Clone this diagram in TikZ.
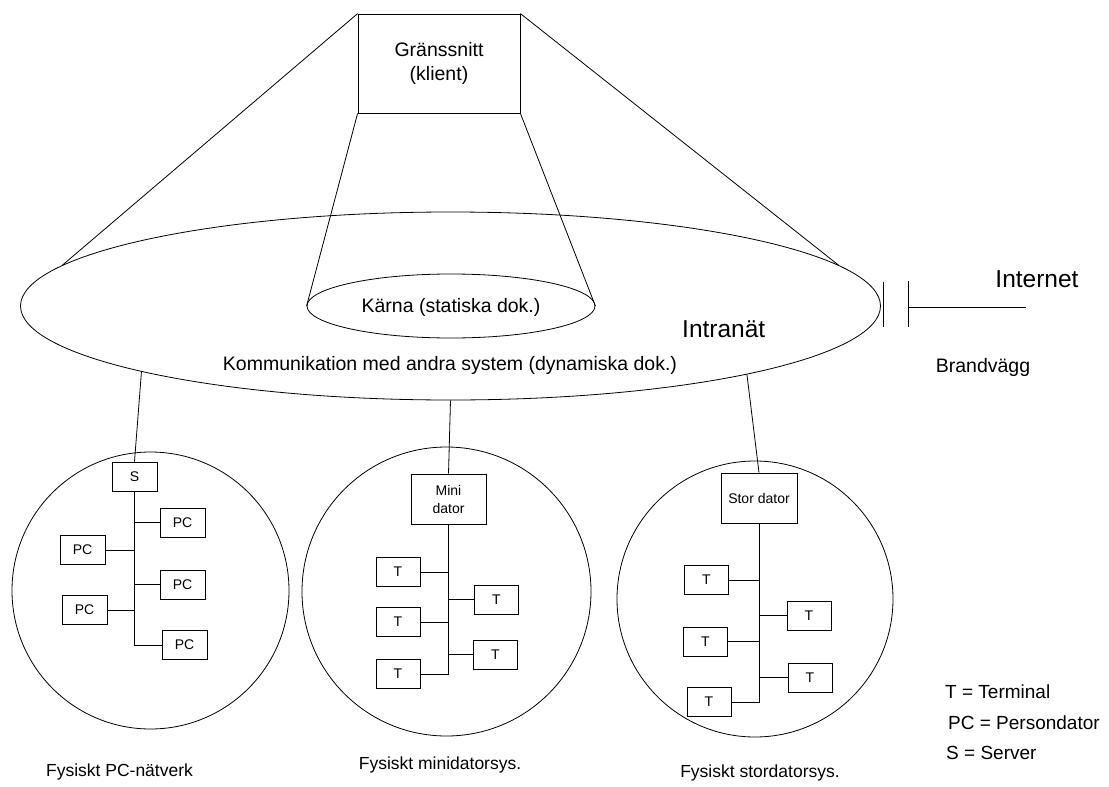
\documentclass[tikz,border=0pt]{standalone}
\usepackage{fontspec}
\setmainfont{Liberation Sans}
\usetikzlibrary{shapes.geometric}

\tikzset{
  thin line/.style={line width=0.8pt, black},
  mid text/.style={font=\fontsize{19.5}{24}\selectfont, inner sep=0pt},
  big text/.style={font=\fontsize{24.5}{29}\selectfont, inner sep=0pt},
  label text/.style={font=\fontsize{17.5}{21}\selectfont, inner sep=0pt},
  legend text/.style={font=\fontsize{19}{23}\selectfont, inner sep=0pt, anchor=west},
  unitbox/.style={draw, thin line, inner sep=0pt, minimum width=45pt, minimum height=29pt,
                  font=\fontsize{14}{18}\selectfont},
  hostbox/.style={draw, thin line, inner sep=0pt, minimum width=76pt, minimum height=50pt,
                  font=\fontsize{14}{18}\selectfont, align=center},
  netcircle/.style={draw, thin line, circle, inner sep=0pt},
}

\begin{document}
\begin{tikzpicture}[x=1pt, y=-1pt]
\useasboundingbox (0,0) rectangle (1109,787);

% ---- client, intranet and core ----
\node[draw, thin line, minimum width=162pt, minimum height=99pt, inner sep=0pt,
      mid text, align=center] (gui) at (439,63.5) {Gränssnitt\\(klient)};
\node[draw, thin line, ellipse, minimum width=860pt, minimum height=188pt, inner sep=0pt]
      (intra) at (450.5,306) {};
\node[draw, thin line, ellipse, minimum width=288pt, minimum height=64pt, inner sep=0pt]
      (core) at (451,306) {};
\node[mid text] (coretxt) at (451,307) {Kärna (statiska dok.)};
\node[mid text] (komm) at (450,365) {Kommunikation med andra system (dynamiska dok.)};
\node[big text, anchor=base west] (intranet) at (682,337) {Intranät};

\draw[thin line] (gui.north west) -- (intra.174.48);
\draw[thin line] (gui.north east) -- (intra.6.4);
\draw[thin line] (gui.south west) -- (core.west);
\draw[thin line] (gui.south east) -- (core.east);

% ---- firewall and internet ----
\coordinate (fw1a) at (883,282);
\coordinate (fw1b) at (883,327);
\coordinate (fw2a) at (908,281);
\coordinate (fw2b) at (908,327);
\coordinate (fwmid) at (908,307);
\coordinate (inet) at (1026,307);
\draw[thin line] (fw1a) -- (fw1b);
\draw[thin line] (fw2a) -- (fw2b);
\draw[thin line] (fwmid) -- (inet);
\node[big text] (internet) at (1037,279) {Internet};
\node[mid text] (brand) at (983,367) {Brandvägg};

% ---- physical PC network ----
\node[netcircle, minimum size=277pt] (c1) at (150.5,590.5) {};
\node[unitbox] (srv) at (134.5,476.5) {S};
\node[unitbox] (pca) at (182.5,522.5) {PC};
\node[unitbox] (pcb) at (82.5,550) {PC};
\node[unitbox] (pcc) at (182.5,584.5) {PC};
\node[unitbox] (pcd) at (84.5,610) {PC};
\node[unitbox] (pce) at (184.5,645) {PC};
\draw[thin line] (intra.192.45) -- (srv.north);
\draw[thin line] (srv.south) -- (srv.south |- pce.west) -- (pce.west);
\draw[thin line] (srv.south |- pca.west) -- (pca.west);
\draw[thin line] (srv.south |- pcb.east) -- (pcb.east);
\draw[thin line] (srv.south |- pcc.west) -- (pcc.west);
\draw[thin line] (srv.south |- pcd.east) -- (pcd.east);

% ---- physical minicomputer system ----
\node[netcircle, minimum size=289pt] (c2) at (446.5,591.5) {};
\node[hostbox, minimum width=75pt] (mini) at (448.5,499) {Mini\\dator};
\node[unitbox, minimum width=44pt] (ma) at (398,572) {T};
\node[unitbox, minimum width=44pt] (mb) at (496.5,599.5) {T};
\node[unitbox, minimum width=44pt] (mc) at (398,622) {T};
\node[unitbox, minimum width=44pt] (md) at (495.5,654.5) {T};
\node[unitbox, minimum width=44pt] (me) at (398,674) {T};
\draw[thin line] (intra.270) -- (mini.north);
\draw[thin line] (mini.south) -- (mini.south |- me.east) -- (me.east);
\draw[thin line] (mini.south |- ma.east) -- (ma.east);
\draw[thin line] (mini.south |- mb.west) -- (mb.west);
\draw[thin line] (mini.south |- mc.east) -- (mc.east);
\draw[thin line] (mini.south |- md.west) -- (md.west);

% ---- physical mainframe system ----
\node[netcircle, minimum size=276pt] (c3) at (755,599) {};
\node[hostbox] (stor) at (759,498) {Stor dator};
\node[unitbox, minimum width=44pt] (sa) at (706.5,580) {T};
\node[unitbox, minimum width=44pt] (sb) at (809,615.5) {T};
\node[unitbox, minimum width=44pt] (sc) at (705.5,641.5) {T};
\node[unitbox, minimum width=44pt] (sd) at (810,677.5) {T};
\node[unitbox, minimum width=44pt] (se) at (709,702) {T};
\draw[thin line] (intra.347.17) -- (stor.north);
\draw[thin line] (stor.south) -- (stor.south |- se.east) -- (se.east);
\draw[thin line] (stor.south |- sa.east) -- (sa.east);
\draw[thin line] (stor.south |- sb.west) -- (sb.west);
\draw[thin line] (stor.south |- sc.east) -- (sc.east);
\draw[thin line] (stor.south |- sd.west) -- (sd.west);

% ---- captions ----
\node[label text] (cap1) at (119.5,772) {Fysiskt PC-nätverk};
\node[label text] (cap2) at (440,765) {Fysiskt minidatorsys.};
\node[label text] (cap3) at (760,773) {Fysiskt stordatorsys.};

% ---- legend ----
\node[legend text] (lt) at (945,692) {T = Terminal};
\node[legend text] (lpc) at (948,723) {PC = Persondator};
\node[legend text] (ls) at (946,753) {S = Server};
\end{tikzpicture}
\end{document}
